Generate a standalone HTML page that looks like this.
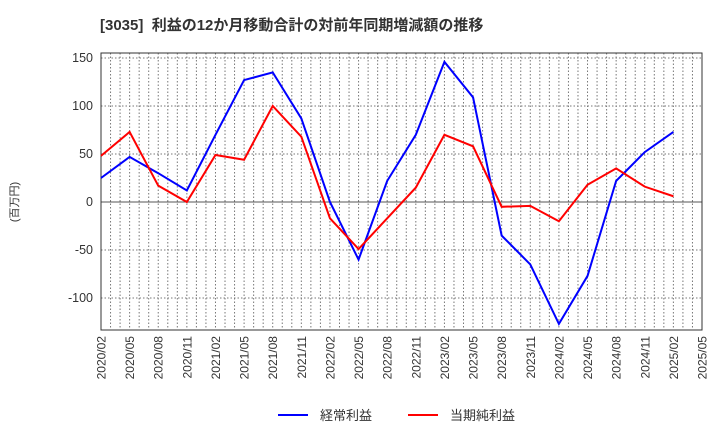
<!DOCTYPE html>
<html><head><meta charset="utf-8"><style>
body{margin:0;background:#fff;font-family:"Liberation Sans","Noto Sans CJK JP",sans-serif}
</style></head><body>
<svg id="c" width="720" height="440" xmlns="http://www.w3.org/2000/svg">
<text x="100" y="30" font-size="15" font-weight="bold" fill="#333" xml:space="preserve">[3035]  利益の12か月移動合計の対前年同期増減額の推移</text>
<text transform="translate(18,202) rotate(-90)" font-size="11" fill="#333" text-anchor="middle">(百万円)</text>
<g id="grid"></g><g id="axes"></g><g id="series"></g>
<g>
<line x1="278" y1="415" x2="308" y2="415" stroke="#0000ff" stroke-width="2"/>
<text x="320" y="420" font-size="13" fill="#333">経常利益</text>
<line x1="408" y1="415" x2="438" y2="415" stroke="#ff0000" stroke-width="2"/>
<text x="450" y="420" font-size="13" fill="#333">当期純利益</text>
</g>
</svg>
<script>
const categories=["2020/02","2020/05","2020/08","2020/11","2021/02","2021/05","2021/08","2021/11","2022/02","2022/05","2022/08","2022/11","2023/02","2023/05","2023/08","2023/11","2024/02","2024/05","2024/08","2024/11","2025/02","2025/05"];
const keijo=[25,47,30,12,70,127,135,87,0,-60,22,70,146,109,-35,-65,-127,-77,22,52,73];
const junri=[48,73,17,0,49,44,100,68,-17,-49,-17,15,70,58,-5,-4,-20,18,35,16,6];
const yTicks=[150,100,50,0,-50,-100];
const L=101,R=702,T=53,B=330;
const x=i=>L+(R-L)*i/(categories.length-1);
const y=v=>202-v*0.96;
const ns="http://www.w3.org/2000/svg";
function mk(t,a,p){const e=document.createElementNS(ns,t);for(const k in a)e.setAttribute(k,a[k]);p.appendChild(e);return e;}
const g=document.getElementById('grid'),ax=document.getElementById('axes'),s=document.getElementById('series');
for(let m=1;m<(categories.length-1)*3;m++){const xx=L+(R-L)*m/((categories.length-1)*3);
const l=mk('line',{x1:xx,x2:xx,y1:T,y2:B,stroke:'#777','stroke-dasharray':'1.5,2','stroke-width':1},g);
}
yTicks.forEach(v=>{const l=mk('line',{x1:L,x2:R,y1:y(v),y2:y(v),stroke:v===0?'#555':'#777','stroke-dasharray':v===0?'':'1.5,2','stroke-width':1},g);

const t=mk('text',{x:L-8,y:y(v)+4,'font-size':12.5,fill:'#333','text-anchor':'end'},ax);t.textContent=v;
});
const fr=mk('rect',{x:L,y:T,width:R-L,height:B-T,fill:'none',stroke:'#333','stroke-width':1},ax);

categories.forEach((c,i)=>{const t=mk('text',{transform:`translate(${x(i)+4.5},${B+6}) rotate(-90)`,'font-size':12,fill:'#333','text-anchor':'end'},ax);t.textContent=c;
});
function line(d,col,name){const p=mk('polyline',{points:d.map((v,i)=>x(i)+','+y(v)).join(' '),fill:'none',stroke:col,'stroke-width':2},s);
}
line(keijo,'#0000ff','series-operating-profit');
line(junri,'#ff0000','series-net-profit');
</script>
</body></html>
